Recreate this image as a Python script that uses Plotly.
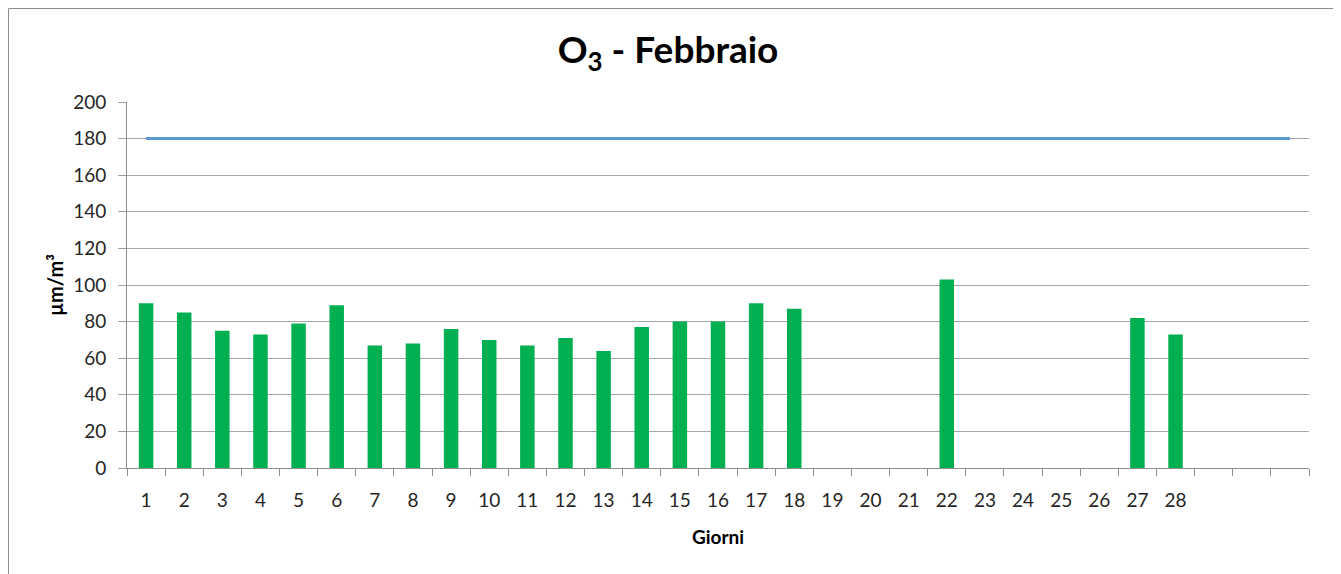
import plotly.graph_objects as go

days = [str(i) for i in range(1, 29)] + [" ", "  ", "   "]
o3_values = [90, 85, 75, 73, 79, 89, 67, 68, 76, 70, 67, 71, 64, 77, 80, 80, 90, 87,
             None, None, None, 103, None, None, None, None, 82, 73,
             None, None, None]
threshold = [180] * 31
y_ticks = list(range(0, 201, 20))

fig = go.Figure()
fig.add_trace(go.Bar(x=days, y=o3_values, marker=dict(color="#00B050", line=dict(width=0)),
                     showlegend=False))
fig.add_trace(go.Scatter(x=days, y=threshold, mode="lines",
                         line=dict(color="#5B9BD5", width=3), showlegend=False))

font_family = "Lato, 'Open Sans', sans-serif"
W, H = 1333, 566
L, R, T, B = 119, 32, 94, 106
PW, PH = W - L - R, H - T - B

fig.update_layout(
    width=W, height=H,
    margin=dict(l=L, r=R, t=T, b=B),
    paper_bgcolor="white", plot_bgcolor="white",
    bargap=0.62,
    font=dict(family=font_family, color="#262626"),
    title=dict(text="<b>O<sub>3</sub> - Febbraio</b>", x=660 / W,
               xanchor="center", y=1 - 42 / H, yanchor="middle",
               font=dict(size=37, color="#000000", family=font_family)),
    xaxis=dict(type="category", categoryorder="array", categoryarray=days,
               tickson="boundaries", ticks="outside", ticklen=7, tickcolor="#8c8c8c",
               showline=True, linecolor="#8c8c8c", linewidth=1, showgrid=False,
               ticklabelstandoff=15,
               tickfont=dict(size=19, color="#262626"),
               title=dict(text="<b>Giorni</b>", font=dict(size=19, color="#000000"), standoff=20)),
    yaxis=dict(range=[0, 200], tickmode="array", tickvals=y_ticks,
               ticks="outside", ticklen=8, tickcolor="#a0a0a0",
               showline=True, linecolor="#8c8c8c", linewidth=1,
               showgrid=True, gridcolor="#a6a6a6", gridwidth=1, zeroline=False,
               ticklabelstandoff=8,
               tickfont=dict(size=19, color="#262626"),
               title=dict(text="<b>µm/m³</b>", font=dict(size=20, color="#000000"), standoff=4)),
)

# outer chart frame
fig.add_shape(type="rect", xref="paper", yref="paper",
              x0=(0.5 - L) / PW, x1=(1326 - L) / PW,
              y0=(PH + T - (H + 20)) / PH, y1=(PH + T - 0.5) / PH,
              line=dict(color="#8c8c8c", width=1), fillcolor="rgba(0,0,0,0)", layer="below")

fig.write_html("out.html")
